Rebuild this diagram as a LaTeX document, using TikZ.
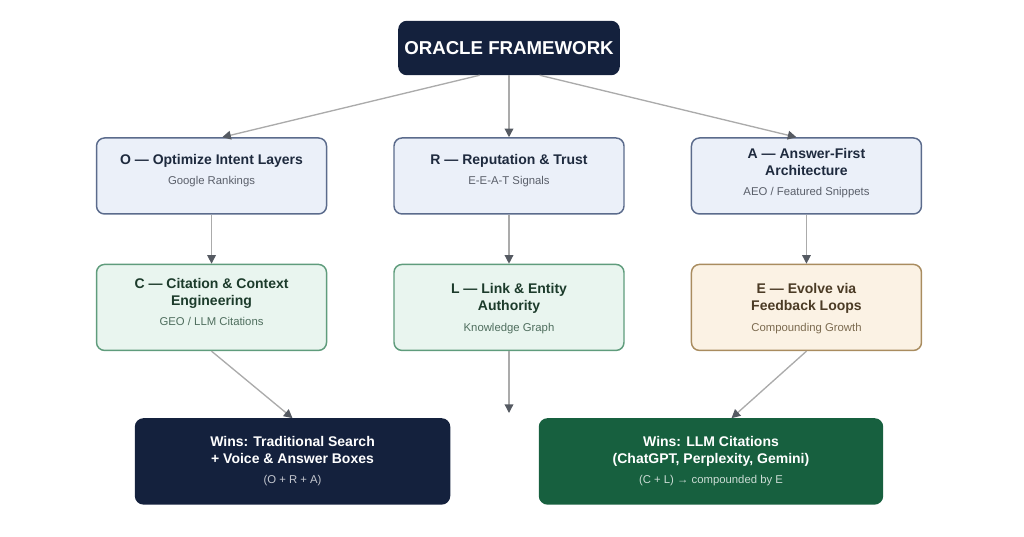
\documentclass[tikz,border=0pt]{standalone}
\usepackage{fontspec}
\setmainfont{Liberation Sans}
\usetikzlibrary{arrows.meta, positioning}

\definecolor{navy}{HTML}{14213D}
\definecolor{winGreen}{HTML}{17603F}
\definecolor{blueFill}{HTML}{EBF0F9}
\definecolor{blueLine}{HTML}{5B6B8C}
\definecolor{blueText}{HTML}{1E2A3E}
\definecolor{blueSub}{HTML}{5A5F6A}
\definecolor{greenFill}{HTML}{E9F5EF}
\definecolor{greenLine}{HTML}{5F9C7C}
\definecolor{greenText}{HTML}{1C3B2B}
\definecolor{greenSub}{HTML}{4F6E5E}
\definecolor{sandFill}{HTML}{FBF2E4}
\definecolor{sandLine}{HTML}{A98C5F}
\definecolor{sandText}{HTML}{4B3B25}
\definecolor{sandSub}{HTML}{7C6B50}
\definecolor{lineGray}{HTML}{ABABAB}
\definecolor{tipGray}{HTML}{555A62}

\newcommand{\boxsub}[1]{{\mdseries\fontsize{8.5}{10}\selectfont #1}}

\tikzset{
	box/.style={draw, rounded corners=6pt, line width=1.1pt, align=center,
		minimum width=172.5pt, inner sep=4pt},
	head/.style={box, fill=navy, draw=navy, text=white, minimum width=165pt,
		minimum height=39.75pt, font=\bfseries\fontsize{14}{16}\selectfont},
	layer/.style={box, fill=blueFill, draw=blueLine, text=blueText, minimum height=57pt, text depth=10pt},
	cite/.style={box, fill=greenFill, draw=greenLine, text=greenText, minimum height=64.5pt, text depth=8pt},
	evolve/.style={box, fill=sandFill, draw=sandLine, text=sandText, minimum height=64.5pt, text depth=0pt},
	win/.style={box, text=white, minimum height=63.75pt},
	link/.style={draw=lineGray, line width=1pt,
		-{Triangle[length=6.5pt, width=6.5pt, color=tipGray]}},
}

\begin{document}
\begin{tikzpicture}[x=0.75pt, y=-0.75pt, font=\bfseries\fontsize{10.5}{12.5}\selectfont]
	\useasboundingbox (0,0) rectangle (1024,536);
	
	% framework
	\node[head] (title) at (509,48) {ORACLE FRAMEWORK};
	
	% first row
	\node[layer, below=46.5pt of title] (R) {R — Reputation \& Trust\\[3pt]\boxsub{\color{blueSub}E-E-A-T Signals}};
	\node[layer, left=49.5pt of R] (O) {O — Optimize Intent Layers\\[3pt]\boxsub{\color{blueSub}Google Rankings}};
	\node[layer, right=49.5pt of R, text depth=6pt] (A) {A — Answer-First\\Architecture\\[3pt]\boxsub{\color{blueSub}AEO / Featured Snippets}};
	
	% second row
	\node[cite, below=36.75pt of O] (C) {C — Citation \& Context\\Engineering\\[3pt]\boxsub{\color{greenSub}GEO / LLM Citations}};
	\node[cite, below=36.75pt of R, text depth=0pt] (L) {L — Link \& Entity\\Authority\\[3pt]\boxsub{\color{greenSub}Knowledge Graph}};
	\node[evolve, below=36.75pt of A] (E) {E — Evolve via\\Feedback Loops\\[3pt]\boxsub{\color{sandSub}Compounding Growth}};
	
	% outcomes
	\node[win, fill=navy, draw=navy, minimum width=235.5pt, below=50.25pt of C, xshift=60.75pt] (search)
		{Wins: Traditional Search\\+ Voice \& Answer Boxes\\[3pt]\boxsub{\color{white!75!navy}(O + R + A)}};
	\node[win, fill=winGreen, draw=winGreen, minimum width=257.25pt, below=50.25pt of E, xshift=-71.6pt] (llm)
		{Wins: LLM Citations\\(ChatGPT, Perplexity, Gemini)\\[3pt]\boxsub{\color{white!78!winGreen}(C + L) → compounded by E}};
	\coordinate (Lend) at (509,413);
	
	\draw[link] ([xshift=-22pt]title.south) -- ([xshift=8pt]O.north);
	\draw[link] (title.south) -- (R.north);
	\draw[link] ([xshift=23pt]title.south) -- ([xshift=-7.5pt]A.north);
	\draw[link] (O) -- (C);
	\draw[link] (R) -- (L);
	\draw[link] (A) -- (E);
	\draw[link] (C.south) -- (search.north);
	\draw[link] (L.south) -- (Lend);
	\draw[link] (E.south) -- ([xshift=15.4pt]llm.north);
	
\end{tikzpicture}
\end{document}
